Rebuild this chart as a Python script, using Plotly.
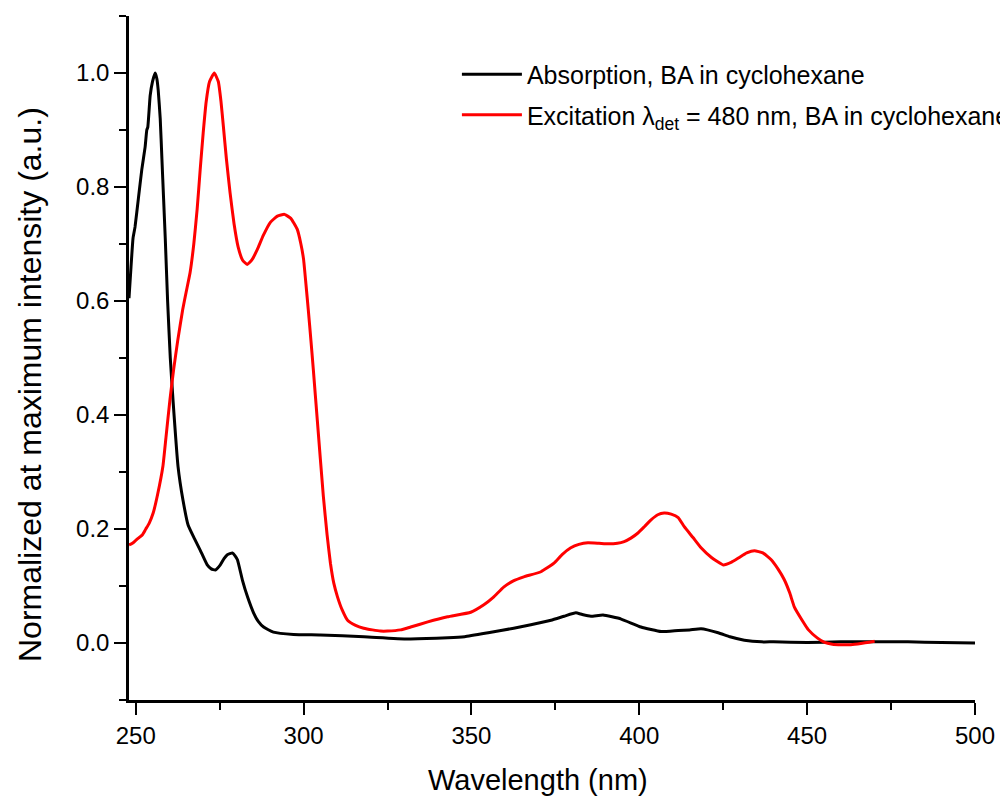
import plotly.graph_objects as go

# Absorption spectrum of BA in cyclohexane (normalized)
abs_wavelength = [248, 248.6, 249.2, 249.8, 250.8, 251.8, 252.8, 253.3, 253.6, 254.3, 255.0, 255.8,
                  256.3, 256.7, 257.3, 257.8, 258.3, 258.8, 259.5, 260.3, 261.1, 262.6, 264.1, 265.6,
                  267.5, 269.2, 271.3, 272.5, 273.7, 275.2, 276.3, 277.3, 278.8, 279.6, 280.3, 281.8,
                  283.3, 285.1, 286.5, 288.1, 291, 297, 305, 318, 331, 343, 348, 355, 362.6, 367.7,
                  373.7, 377.6, 381.1, 383, 385.6, 389.2, 394.6, 400.5, 406.5, 411.6, 415, 418.4,
                  423.5, 427, 431.3, 436.4, 440, 450, 460, 470, 480, 490, 500]
abs_intensity = [0.605, 0.66, 0.71, 0.73, 0.78, 0.83, 0.87, 0.90, 0.905, 0.96, 0.985, 1.0,
                 0.99, 0.97, 0.92, 0.85, 0.78, 0.71, 0.60, 0.50, 0.427, 0.31, 0.25, 0.207,
                 0.183, 0.163, 0.137, 0.13, 0.128, 0.137, 0.148, 0.155, 0.158, 0.153, 0.146, 0.11,
                 0.081, 0.053, 0.038, 0.028, 0.019, 0.015, 0.014, 0.011, 0.007, 0.009, 0.011, 0.018,
                 0.026, 0.032, 0.040, 0.047, 0.053, 0.050, 0.047, 0.049, 0.042, 0.028, 0.020, 0.022,
                 0.023, 0.025, 0.018, 0.011, 0.005, 0.002, 0.002, 0.001, 0.002, 0.002, 0.002, 0.001, 0.0]

# Excitation spectrum, detection at 480 nm (normalized)
exc_wavelength = [248, 249, 250, 251, 252, 253, 254, 255.2, 256.5, 258.1, 259, 260.2, 261.3, 262.5,
                  264, 265, 266.2, 267.3, 268.3, 269.2, 270.1, 271, 272, 273.4, 274.6, 275.4, 276.1,
                  277, 278.1, 279.3, 280.5, 281.8, 283.2, 284.6, 286.2, 288, 290.1, 292.2, 294.3,
                  296.2, 298.1, 299.2, 300, 300.7, 301.4, 302.2, 302.9, 304.1, 305.9, 307, 308, 309,
                  310.1, 311.5, 313.1, 315.5, 317.9, 320.5, 322.9, 325, 328.9, 331.9, 337, 342.9,
                  349.8, 353.7, 356.5, 359.6, 362.5, 365.6, 370.7, 374.6, 377, 379.6, 382, 384.7,
                  388, 390.7, 393.5, 395.5, 397.5, 399.6, 401.5, 403.5, 405.5, 407.4, 409.5, 411.6,
                  413.4, 416, 418.4, 421.5, 425, 427.5, 429.5, 432, 434.3, 436.8, 439.3, 441.3,
                  443.2, 444.8, 446.2, 448.5, 450.4, 453, 455.2, 457.5, 460.2, 463, 466, 470.1]
exc_intensity = [0.172, 0.175, 0.18, 0.185, 0.19, 0.20, 0.21, 0.228, 0.26, 0.31, 0.36, 0.427, 0.48,
                 0.53, 0.585, 0.615, 0.65, 0.70, 0.761, 0.83, 0.895, 0.95, 0.985, 1.0, 0.985, 0.95,
                 0.907, 0.85, 0.79, 0.735, 0.695, 0.672, 0.664, 0.672, 0.69, 0.715, 0.738, 0.749,
                 0.752, 0.745, 0.726, 0.70, 0.673, 0.63, 0.585, 0.53, 0.48, 0.39, 0.257, 0.19,
                 0.14, 0.105, 0.081, 0.058, 0.040, 0.031, 0.026, 0.023, 0.021, 0.021, 0.023, 0.028,
                 0.037, 0.046, 0.054, 0.067, 0.08, 0.098, 0.109, 0.116, 0.125, 0.14, 0.155, 0.167,
                 0.173, 0.176, 0.175, 0.174, 0.175, 0.178, 0.184, 0.193, 0.204, 0.216, 0.225, 0.228,
                 0.226, 0.22, 0.204, 0.185, 0.167, 0.15, 0.137, 0.142, 0.149, 0.158, 0.162, 0.158,
                 0.146, 0.13, 0.111, 0.088, 0.063, 0.04, 0.023, 0.009, 0.001, -0.002, -0.003,
                 -0.003, -0.001, 0.003]

x_ticks = [250, 300, 350, 400, 450, 500]
y_ticks = [0.0, 0.2, 0.4, 0.6, 0.8, 1.0]

FONT = "Liberation Sans, Arial, sans-serif"

fig = go.Figure()
fig.add_trace(go.Scatter(
    x=abs_wavelength, y=abs_intensity, mode="lines",
    name="Absorption, BA in cyclohexane", legendgroup="abs",
    line=dict(color="black", width=3, shape="spline", smoothing=0.4),
))
fig.add_trace(go.Scatter(
    x=exc_wavelength, y=exc_intensity, mode="lines",
    name="Excitation \u03bb<sub>det</sub>\u00a0= 480 nm, BA in cyclohexane", legendgroup="exc",
    line=dict(color="#ff0000", width=3, shape="spline", smoothing=0.4),
))

fig.update_layout(
    width=1000, height=802,
    margin=dict(l=129, r=25, t=16, b=102, autoexpand=False),
    paper_bgcolor="white", plot_bgcolor="white",
    font=dict(family=FONT, color="black", size=24),
    showlegend=True,
    legend=dict(
        x=0.3876, y=0.948, xanchor="left", yanchor="top",
        bgcolor="rgba(0,0,0,0)", borderwidth=0,
        font=dict(family=FONT, size=25, color="black"),
        tracegroupgap=5, itemwidth=60,
    ),
)

fig.update_xaxes(
    range=[248, 500], tickvals=x_ticks, ticktext=[str(v) for v in x_ticks],
    showline=True, linecolor="black", linewidth=2.5, mirror=False,
    ticks="outside", ticklen=12, tickwidth=2, tickcolor="black",
    minor=dict(dtick=25, tick0=250, ticks="outside", ticklen=7, tickwidth=2, tickcolor="black", showgrid=False),
    showgrid=False, zeroline=False,
    tickfont=dict(family=FONT, size=24),
)
fig.update_yaxes(
    range=[-0.1, 1.1], tickvals=y_ticks, ticktext=[f"{v:.1f}" for v in y_ticks],
    showline=True, linecolor="black", linewidth=2.5, mirror=False,
    ticks="outside", ticklen=12, tickwidth=2, tickcolor="black",
    minor=dict(dtick=0.1, tick0=0, ticks="outside", ticklen=7, tickwidth=2, tickcolor="black", showgrid=False),
    showgrid=False, zeroline=False,
    tickfont=dict(family=FONT, size=24),
)

# Axis titles
fig.add_annotation(
    text="Wavelength (nm)", xref="paper", yref="paper",
    x=(538 - 129) / 846, y=-(780 - 700) / 684, xanchor="center", yanchor="middle",
    showarrow=False, font=dict(family=FONT, size=29, color="black"),
)
fig.add_annotation(
    text="Normalized at maximum intensity (a.u.)", xref="paper", yref="paper",
    x=-(129 - 30) / 846, y=(700 - 385) / 684, xanchor="center", yanchor="middle",
    textangle=-90, showarrow=False, font=dict(family=FONT, size=32, color="black"),
)

fig.write_html("out.html")
